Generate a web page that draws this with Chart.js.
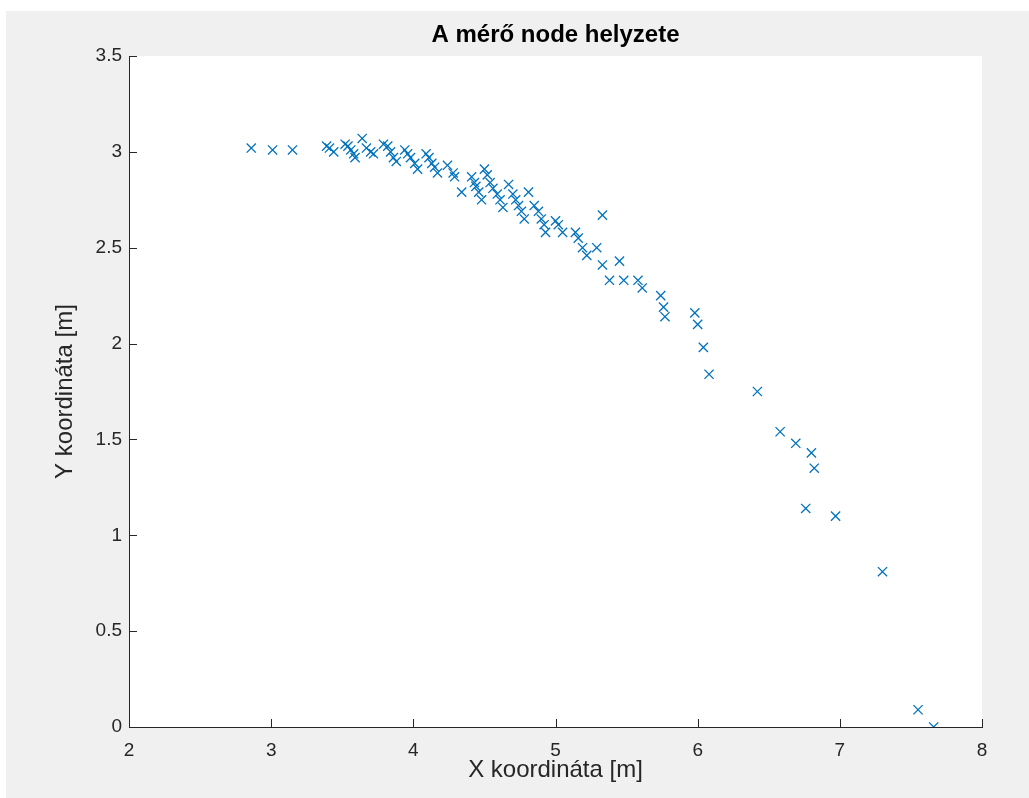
<!DOCTYPE html>
<html>
<head>
<meta charset="utf-8">
<script src="https://cdn.jsdelivr.net/npm/chart.js@4"></script>
<style>
    html, body { margin: 0; padding: 0; background: #ffffff; }
    #wrap { position: absolute; left: 6px; top: 11px; width: 1023px; height: 787px; }
</style>
</head>
<body>
<div id="wrap"><canvas id="nodeChart"></canvas></div>
<script>
var xValues = [
    2.86, 3.01, 3.15, 3.39, 3.41, 3.44, 3.52, 3.54, 3.56, 3.58,
    3.59, 3.64, 3.67, 3.70, 3.72, 3.79, 3.82, 3.84, 3.86, 3.88,
    3.94, 3.96, 3.98, 4.01, 4.03, 4.09, 4.11, 4.13, 4.15, 4.17,
    4.24, 4.28, 4.29, 4.34, 4.41, 4.43, 4.44, 4.46, 4.48, 4.50,
    4.52, 4.54, 4.56, 4.59, 4.61, 4.63, 4.67, 4.70, 4.72, 4.74,
    4.76, 4.78, 4.81, 4.85, 4.88, 4.90, 4.92, 4.93, 5.00, 5.02,
    5.05, 5.14, 5.16, 5.19, 5.22, 5.29, 5.33, 5.33, 5.45, 5.38,
    5.48, 5.58, 5.61, 5.74, 5.76, 5.77, 5.98, 6.00, 6.04, 6.08,
    6.42, 6.58, 6.69, 6.80, 6.82, 6.76, 6.97, 7.30, 7.55, 7.66
];
var yValues = [
    3.02, 3.01, 3.01, 3.03, 3.02, 3.00, 3.04, 3.03, 3.01, 2.99,
    2.97, 3.07, 3.02, 3.00, 2.99, 3.04, 3.03, 3.00, 2.97, 2.95,
    3.01, 2.99, 2.97, 2.94, 2.91, 2.99, 2.97, 2.94, 2.92, 2.89,
    2.93, 2.89, 2.87, 2.79, 2.87, 2.84, 2.82, 2.79, 2.75, 2.91,
    2.88, 2.84, 2.81, 2.78, 2.75, 2.71, 2.83, 2.78, 2.75, 2.72,
    2.69, 2.65, 2.79, 2.72, 2.69, 2.65, 2.62, 2.58, 2.64, 2.62,
    2.58, 2.58, 2.55, 2.50, 2.46, 2.50, 2.67, 2.41, 2.43, 2.33,
    2.33, 2.33, 2.29, 2.25, 2.19, 2.14, 2.16, 2.10, 1.98, 1.84,
    1.75, 1.54, 1.48, 1.43, 1.35, 1.14, 1.10, 0.81, 0.09, 0.00
];
var xTicks = [2, 3, 4, 5, 6, 7, 8];
var yTicks = [0, 0.5, 1, 1.5, 2, 2.5, 3, 3.5];

var points = xValues.map(function (x, i) {
    return { x: x, y: yValues[i] };
});

var axisColor = '#262626';
var fontName = '"Liberation Sans", Arial, Helvetica, sans-serif';

// grey figure background + white axes box
var backgroundPlugin = {
    id: 'figureBackground',
    beforeDraw: function (chart) {
        var ctx = chart.ctx, a = chart.chartArea;
        ctx.save();
        ctx.fillStyle = '#f0f0f0';
        ctx.fillRect(0, 0, chart.width, chart.height);
        ctx.fillStyle = '#ffffff';
        ctx.fillRect(a.left, a.top, a.right - a.left, a.bottom - a.top);
        ctx.restore();
    }
};

// MATLAB style ticks pointing into the plot
var inwardTicks = {
    id: 'inwardTicks',
    afterDraw: function (chart) {
        var ctx = chart.ctx, a = chart.chartArea;
        var xs = chart.scales.x, ys = chart.scales.y;
        var len = 8;
        ctx.save();
        ctx.strokeStyle = axisColor;
        ctx.lineWidth = 1;
        ctx.beginPath();
        xTicks.forEach(function (v) {
            var px = Math.round(xs.getPixelForValue(v)) + 0.5;
            ctx.moveTo(px, a.bottom);
            ctx.lineTo(px, a.bottom - len);
        });
        yTicks.forEach(function (v) {
            var py = Math.round(ys.getPixelForValue(v)) + 0.5;
            ctx.moveTo(a.left, py);
            ctx.lineTo(a.left + len, py);
        });
        ctx.stroke();
        ctx.restore();
    }
};

function plainLabel(value) {
    return String(value);
}

const ctx = document.getElementById('nodeChart').getContext('2d');
const nodeChart = new Chart(ctx, {
    type: 'scatter',
    data: {
        datasets: [{
            label: 'Node',
            data: points,
            pointStyle: 'crossRot',
            pointRadius: 6.5,
            pointHoverRadius: 6.5,
            borderColor: 'rgb(0, 114, 189)',
            backgroundColor: 'rgb(0, 114, 189)',
            pointBorderWidth: 1.3
        }]
    },
    options: {
        responsive: true,
        maintainAspectRatio: false,
        animation: false,
        layout: { padding: { left: 0, right: 47, top: 0, bottom: 0 } },
        plugins: {
            legend: { display: false },
            tooltip: { enabled: false },
            title: {
                display: true,
                fullSize: false,
                text: 'A mérő node helyzete',
                color: '#000000',
                font: { family: fontName, size: 24, weight: 'bold' },
                padding: { top: 9.6, bottom: 6.6 }
            }
        },
        scales: {
            x: {
                type: 'linear',
                min: 2,
                max: 8,
                afterFit: function (s) { s.height = 71; },
                afterBuildTicks: function (s) {
                    s.ticks = xTicks.map(function (v) { return { value: v }; });
                },
                grid: { display: false, drawTicks: false },
                border: { display: true, color: axisColor, width: 1 },
                ticks: {
                    color: axisColor,
                    padding: 12,
                    maxRotation: 0,
                    callback: plainLabel,
                    font: { family: fontName, size: 19 }
                },
                title: {
                    display: true,
                    text: 'X koordináta [m]',
                    color: axisColor,
                    font: { family: fontName, size: 24 },
                    padding: { top: 0, bottom: 13.6 }
                }
            },
            y: {
                type: 'linear',
                min: 0,
                max: 3.5,
                afterFit: function (s) { s.width = 123; },
                afterBuildTicks: function (s) {
                    s.ticks = yTicks.map(function (v) { return { value: v }; });
                },
                grid: { display: false, drawTicks: false },
                border: { display: true, color: axisColor, width: 1 },
                ticks: {
                    color: axisColor,
                    padding: 7,
                    callback: plainLabel,
                    font: { family: fontName, size: 19 }
                },
                title: {
                    display: true,
                    text: 'Y koordináta [m]',
                    color: axisColor,
                    font: { family: fontName, size: 24 },
                    padding: { top: 44.6, bottom: 0 }
                }
            }
        }
    },
    plugins: [backgroundPlugin, inwardTicks]
});
</script>
</body>
</html>
